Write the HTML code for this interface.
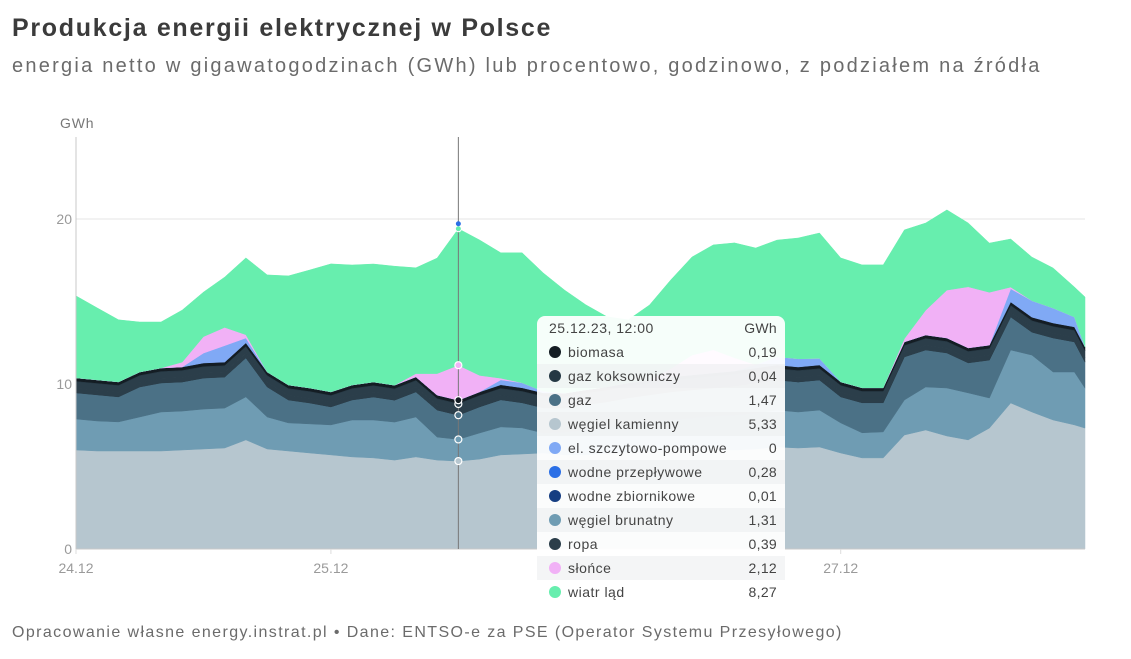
<!DOCTYPE html>
<html><head><meta charset="utf-8">
<style>
html,body{margin:0;padding:0;background:#fff;width:1131px;height:659px;overflow:hidden;font-family:"Liberation Sans",sans-serif}
#title{position:absolute;left:12px;top:14px;font-size:25px;font-weight:bold;color:#3b3b3b;margin:0;letter-spacing:1.7px}
#subtitle{position:absolute;left:12px;top:55px;font-size:20px;color:#6b6b6b;letter-spacing:2.25px}
#footer{position:absolute;left:12px;top:624px;font-size:16px;color:#6b6b6b;letter-spacing:1.4px}
svg{position:absolute;left:0;top:0}
#tooltip{position:absolute;left:537px;top:316px;width:248px;height:289px;background:rgba(255,255,255,0.94);border-radius:8px;font-size:14px;color:#444}
.row{position:absolute;left:0;width:248px;height:24px;line-height:24px}
.row.alt{background:rgba(236,238,240,0.6)}
.dot{position:absolute;left:12px;top:6px;width:12px;height:12px;border-radius:50%}
.lab{position:absolute;left:31px;letter-spacing:0.5px}
.val{position:absolute;right:8px;letter-spacing:0.3px}
</style></head><body>
<h1 id="title">Produkcja energii elektrycznej w Polsce</h1>
<div id="subtitle">energia netto w gigawatogodzinach (GWh) lub procentowo, godzinowo, z podziałem na źródła</div>
<svg id="chart" width="1131" height="659"></svg>
<div id="tooltip"></div>
<div id="footer">Opracowanie własne energy.instrat.pl • Dane: ENTSO-e za PSE (Operator Systemu Przesyłowego)</div>
<script>
const hours=[0,2,4,6,8,10,12,14,16,18,20,22,24,26,28,30,32,34,36,38,40,42,44,46,48,50,52,54,56,58,60,62,64,66,68,70,72,74,76,78,80,82,84,86,88,90,92,94,95];
const wegielKamienny=[6.00,5.94,5.94,5.94,5.94,6.00,6.06,6.12,6.61,6.06,5.94,5.82,5.70,5.58,5.52,5.39,5.58,5.39,5.33,5.45,5.70,5.76,5.82,5.70,5.70,5.82,5.88,5.94,6.00,6.00,6.00,6.00,6.06,6.18,6.12,6.18,5.82,5.52,5.52,6.91,7.21,6.85,6.61,7.33,8.85,8.30,7.82,7.52,7.33];
const wegielBrunatny=[1.88,1.82,1.76,2.06,2.36,2.36,2.42,2.42,2.61,1.94,1.70,1.76,1.82,2.24,2.30,2.30,2.42,1.39,1.31,1.58,1.70,1.58,1.21,1.39,1.52,1.52,1.64,1.76,1.82,1.94,2.06,2.12,2.18,2.24,2.18,2.24,1.82,1.52,1.58,2.12,2.61,2.91,2.85,1.82,3.21,3.45,2.91,3.21,2.42];
const gaz=[1.58,1.58,1.52,1.82,1.76,1.76,1.88,1.88,2.36,1.82,1.39,1.27,1.09,1.21,1.39,1.33,1.52,1.64,1.47,1.58,1.64,1.52,1.52,1.45,1.52,1.58,1.64,1.64,1.70,1.70,1.70,1.76,1.82,1.82,1.82,1.82,1.58,1.82,1.76,2.61,2.24,2.12,1.82,2.30,2.00,1.39,2.06,1.82,1.58];
const ropa=hours.map(()=>0.39);
const gazKoksowniczy=hours.map(()=>0.04);
const biomasa=hours.map(()=>0.19);
const wodneZbiornikowe=hours.map(()=>0.01);
const wodnePrzeplywowe=hours.map(()=>0.28);
const pompowe=[0,0,0,0,0,0,0.6,1.0,0.3,0,0,0,0,0,0,0,0,0,0,0,0.3,0.3,0.1,0,0,0,0,0,0,0,0,0,0.2,0.5,0.5,0.4,0,0,0,0,0,0,0,0,0.8,1.0,0.9,0.6,0];
const slonce=[0,0,0,0,0,0.3,1.0,1.1,0.2,0,0,0,0,0,0,0,0.2,1.3,2.12,1.0,0.1,0,0,0,0,0,0,0,0.5,1.2,1.4,0.8,0,0,0,0,0,0,0,0.2,1.5,2.9,3.7,3.2,0.1,0,0,0,0];
const wiatr=[4.97,4.36,3.76,3.03,2.79,3.15,2.70,3.05,4.65,5.88,6.61,7.15,7.76,7.27,7.15,7.21,6.41,7.00,8.27,8.21,7.60,7.88,7.17,6.24,5.15,4.24,3.82,4.54,5.38,5.95,6.36,6.96,7.07,7.07,7.32,7.60,7.51,7.45,7.45,6.59,5.29,4.86,3.87,2.98,2.92,2.64,2.43,1.82,3.03];
const yTicks=[0,10,20];
const xTickLabels=["24.12","25.12","26.12","27.12"];
const xTickHours=[0,24,48,72];
const cursorHour=36;

const X0=76,X1=1085,Y0=549,PX=16.5,HMAX=95;
const xs=h=>X0+(X1-X0)*h/HMAX;
const ys=v=>Y0-v*PX;
const NS="http://www.w3.org/2000/svg";
const svg=document.getElementById('chart');
function mk(t,a){const e=document.createElementNS(NS,t);for(const k in a)e.setAttribute(k,a[k]);svg.appendChild(e);return e;}

yTicks.forEach(v=>{
  if(v>0){const g=mk('line',{x1:X0,x2:X1,y1:ys(v),y2:ys(v),stroke:'#e4e4e4','stroke-width':1});
  
  }
});

const series=[
 {name:'węgiel kamienny',d:wegielKamienny,c:'#b6c6cf'},
 {name:'węgiel brunatny',d:wegielBrunatny,c:'#6f9cb3'},
 {name:'gaz',d:gaz,c:'#4b7186'},
 {name:'wodne zbiornikowe',d:wodneZbiornikowe,c:'#163e82',fill:'#2b3e4a'},
 {name:'wodne przepływowe',d:wodnePrzeplywowe,c:'#2b6fe6',fill:'#2b3e4a'},
 {name:'ropa',d:ropa,c:'#2b3e4a'},
 {name:'gaz koksowniczy',d:gazKoksowniczy,c:'#253844'},
 {name:'biomasa',d:biomasa,c:'#141d24'},
 {name:'el. szczytowo-pompowe',d:pompowe,c:'#80a9f5'},
 {name:'słońce',d:slonce,c:'#f1b1f6'},
 {name:'wiatr ląd',d:wiatr,c:'#67eeae'}
];
let base=hours.map(()=>0);
const tops=[];
series.forEach(s=>{
  const top=base.map((b,i)=>b+s.d[i]);
  let p='M'+hours.map((h,i)=>xs(h).toFixed(1)+','+ys(top[i]).toFixed(1)).join('L');
  for(let i=hours.length-1;i>=0;i--)p+='L'+xs(hours[i]).toFixed(1)+','+ys(base[i]).toFixed(1);
  p+='Z';
  const f=s.fill||s.c;
  const a=mk('path',{d:p,fill:f,stroke:f,'stroke-width':0.5});
  
  
  tops.push(top);
  base=top;
});

const ax=mk('line',{x1:X0,x2:X0,y1:137,y2:Y0,stroke:'#c8c8c8'});


const bx=mk('line',{x1:X0,x2:X1,y1:Y0,y2:Y0,stroke:'#c8c8c8'});


yTicks.forEach(v=>{
  const t=mk('text',{x:X0-4,y:ys(v)+5,'text-anchor':'end','font-size':14,fill:'#9a9a9a','font-family':'Liberation Sans'});
  t.textContent=v;
  
  
});
const yl=mk('text',{x:60,y:128,'font-size':14,fill:'#777','font-family':'Liberation Sans','letter-spacing':0.8});
yl.textContent='GWh';


xTickLabels.forEach((l,i)=>{
  const x=xs(xTickHours[i]);
  const tk=mk('line',{x1:x,x2:x,y1:Y0,y2:Y0+5,stroke:'#ddd'});
  
  
  const t=mk('text',{x:x,y:Y0+24,'text-anchor':'middle','font-size':14,fill:'#9a9a9a','font-family':'Liberation Sans'});
  t.textContent=l;
  
  
});

const ci=hours.indexOf(cursorHour);
const cx=xs(cursorHour);
const cl=mk('line',{x1:cx,x2:cx,y1:137,y2:Y0,stroke:'#777','stroke-width':1});


[0,1,2,5,7,9].forEach(k=>{
  const m=mk('circle',{cx:cx,cy:ys(tops[k][ci]),r:3.5,fill:series[k].c,stroke:'#fff','stroke-width':1.2});
  
  
});
const m1=mk('circle',{cx:cx,cy:ys(tops[10][ci]),r:3,fill:'#67eeae',stroke:'#fff','stroke-width':1});


const m2=mk('circle',{cx:cx,cy:ys(tops[10][ci])-5,r:2.5,fill:'#2b6fe6'});



const ttNames=['biomasa','gaz koksowniczy','gaz','węgiel kamienny','el. szczytowo-pompowe','wodne przepływowe','wodne zbiornikowe','węgiel brunatny','ropa','słońce','wiatr ląd'];
const tt=document.getElementById('tooltip');
let html='<div class="row" style="top:0"><span class="lab" style="left:12px">25.12.23, 12:00</span><span class="val">GWh</span></div>';
ttNames.forEach((n,i)=>{
  const s=series.find(q=>q.name===n);
  const v=s.d[ci];
  const txt=v===0?'0':v.toFixed(2).replace('.',',');
  html+='<div class="row'+(i%2===1?' alt':'')+'" style="top:'+(24*(i+1))+'px"><span class="dot" style="background:'+s.c+'"></span><span class="lab">'+n+'</span><span class="val">'+txt+'</span></div>';
});
tt.innerHTML=html;
</script>
</body></html>
